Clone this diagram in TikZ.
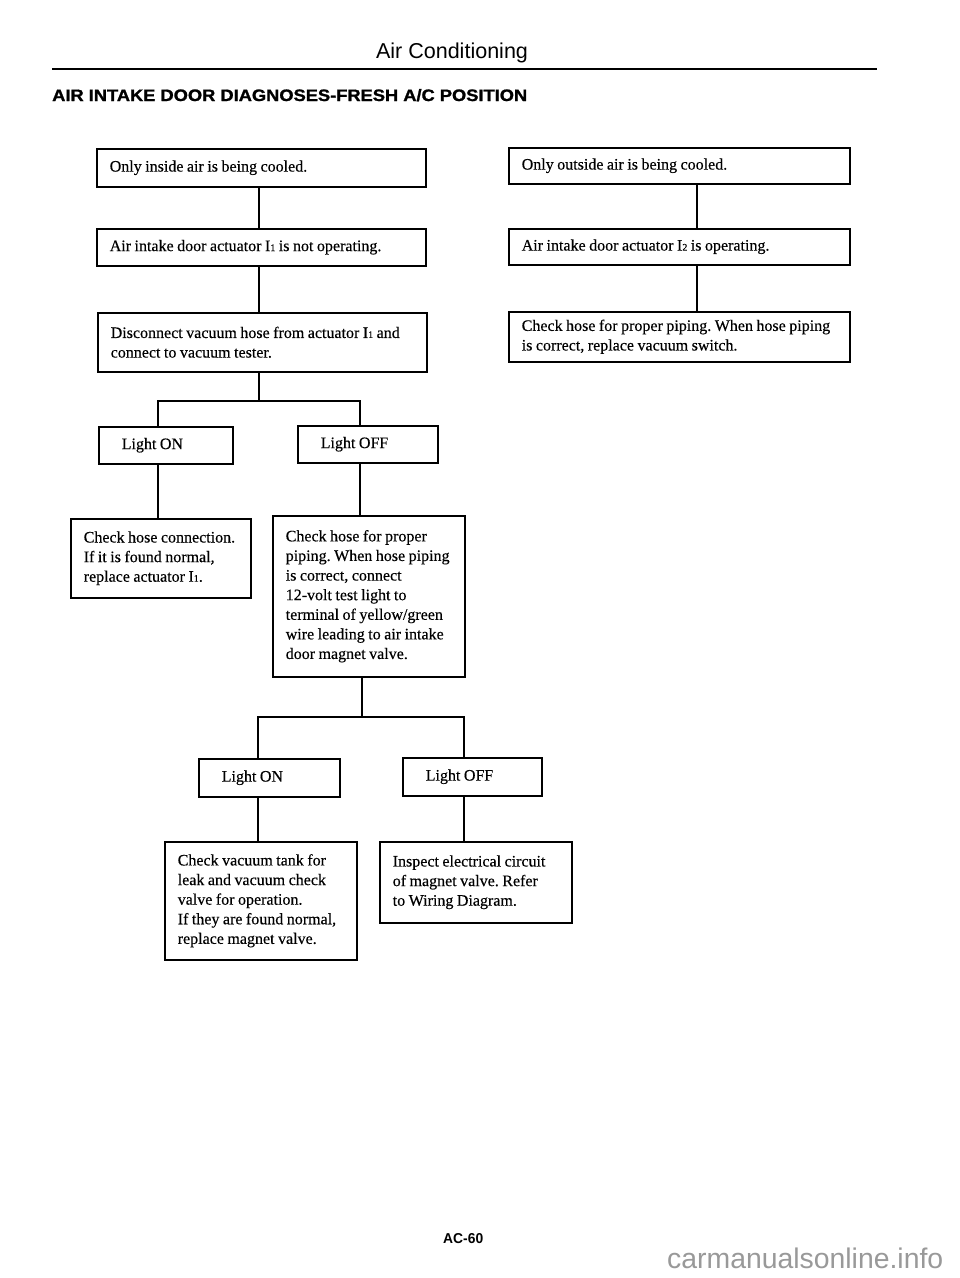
\documentclass[tikz,border=0pt]{standalone}
\usepackage{fontspec}
\setmainfont{Liberation Serif}[FakeBold=0.3]
\setsansfont{Liberation Sans}
\newfontfamily\heavysans{Liberation Sans}[BoldFeatures={FakeBold=1.2}]
\usepackage{graphicx}
\newcommand\smalldig[1]{{\fontsize{10}{10}\selectfont #1}}
\newcommand\Lx[1]{\mbox{#1}}
\newcommand\tightspaces{\frenchspacing\spaceskip=3.5pt plus 1.5pt\relax}
\begin{document}
\begin{tikzpicture}[x=1pt,y=-1pt,
  box/.style={draw, line width=1.5pt, inner ysep=0pt, inner xsep=13pt, align=left,
    anchor=north west, font=\fontsize{16}{19.6}\selectfont,
    execute at begin node=\tightspaces},
  lightbox/.style={box, inner xsep=23pt},
  conn/.style={line width=1.5pt},
  heading/.style={inner sep=0pt}]
\fill[white] (0,0) rectangle (960,1278);
\useasboundingbox (0,0) rectangle (960,1278);

% header
\node[heading, anchor=base] (hdr) at (452,58) {\resizebox{152pt}{!}{\sffamily\fontsize{20}{20}\selectfont Air Conditioning}};
\coordinate (rulel) at (52,69);
\coordinate (ruler) at (877,69);
\draw[line width=2.5pt] (rulel) -- (ruler);
\node[heading, anchor=base west] (title) at (52,101) {\resizebox{475pt}{12pt}{\heavysans\bfseries AIR INTAKE DOOR DIAGNOSES-FRESH A/C POSITION}};

% left column
\node[box, minimum width=329pt, minimum height=38pt, text width=303pt] (B1) at (96,148) {\Lx{Only inside air is being cooled.}};
\node[box, minimum width=329pt, minimum height=37pt, text width=303pt] (B2) at (96,228) {\Lx{Air intake door actuator I\smalldig{1} is not operating.}};
\node[box, minimum width=329pt, minimum height=59pt, text width=303pt] (B3) at (97,312) {\Lx{Disconnect vacuum hose from actuator I\smalldig{1} and}\\\Lx{connect to vacuum tester.}};

% right column
\node[box, minimum width=341pt, minimum height=36pt, text width=315pt] (R1) at (508,147) {\Lx{Only outside air is being cooled.}};
\node[box, minimum width=341pt, minimum height=36pt, text width=315pt] (R2) at (508,228) {\Lx{Air intake door actuator I\smalldig{2} is operating.}};
\node[box, minimum width=341pt, minimum height=50pt, text width=315pt] (R3) at (508,311) {\Lx{Check hose for proper piping. When hose piping}\\\Lx{is correct, replace vacuum switch.}};

% first light test
\node[lightbox, minimum width=134pt, minimum height=37pt, text width=88pt] (L1on) at (98,426) {\Lx{Light ON}};
\node[lightbox, minimum width=140pt, minimum height=37pt, text width=94pt] (L1off) at (297,425) {\Lx{Light OFF}};
\node[box, minimum width=180pt, minimum height=79pt, text width=154pt] (C1) at (70,518) {\Lx{Check hose connection.}\\\Lx{If it is found normal,}\\\Lx{replace actuator I\smalldig{1}.}};
\node[box, minimum width=192pt, minimum height=161pt, text width=166pt] (C2) at (272,515) {\Lx{Check hose for proper}\\\Lx{piping. When hose piping}\\\Lx{is correct, connect}\\\Lx{12-volt test light to}\\\Lx{terminal of yellow/green}\\\Lx{wire leading to air intake}\\\Lx{door magnet valve.}};

% second light test
\node[lightbox, minimum width=141pt, minimum height=38pt, text width=95pt] (L2on) at (198,758) {\Lx{Light ON}};
\node[lightbox, minimum width=139pt, minimum height=38pt, text width=93pt] (L2off) at (402,757) {\Lx{Light OFF}};
\node[box, minimum width=192pt, minimum height=118pt, text width=166pt] (C3) at (164,841) {\Lx{Check vacuum tank for}\\\Lx{leak and vacuum check}\\\Lx{valve for operation.}\\\Lx{If they are found normal,}\\\Lx{replace magnet valve.}};
\node[box, minimum width=192pt, minimum height=81pt, text width=166pt] (C4) at (379,841) {\Lx{Inspect electrical circuit}\\\Lx{of magnet valve. Refer}\\\Lx{to Wiring Diagram.}};

% connectors
\coordinate (cl) at (259,0);
\coordinate (cr) at (697,0);
\draw[conn] (B1.south -| cl) -- (B2.north -| cl);
\draw[conn] (B2.south -| cl) -- (B3.north -| cl);
\draw[conn] (R1.south -| cr) -- (R2.north -| cr);
\draw[conn] (R2.south -| cr) -- (R3.north -| cr);

\coordinate (s1) at (259,401);
\coordinate (s1l) at (158,401);
\coordinate (s1r) at (360,401);
\draw[conn] (B3.south -| s1) -- (s1);
\draw[conn] (L1on.north -| s1l) -- (s1l) -- (s1r) -- (L1off.north -| s1r);
\draw[conn] (L1on.south -| s1l) -- (C1.north -| s1l);
\draw[conn] (L1off.south -| s1r) -- (C2.north -| s1r);

\coordinate (s2) at (362,717);
\coordinate (s2l) at (258,717);
\coordinate (s2r) at (464,717);
\draw[conn] (C2.south -| s2) -- (s2);
\draw[conn] (L2on.north -| s2l) -- (s2l) -- (s2r) -- (L2off.north -| s2r);
\draw[conn] (L2on.south -| s2l) -- (C3.north -| s2l);
\draw[conn] (L2off.south -| s2r) -- (C4.north -| s2r);

% footer
\node[heading, anchor=base west] (page) at (443,1243) {\resizebox{40pt}{10pt}{\sffamily\bfseries AC-60}};
\node[heading, anchor=base west, text=black!40] (wm) at (667,1268) {\resizebox{276pt}{!}{\sffamily carmanualsonline.info}};
\end{tikzpicture}
\end{document}
